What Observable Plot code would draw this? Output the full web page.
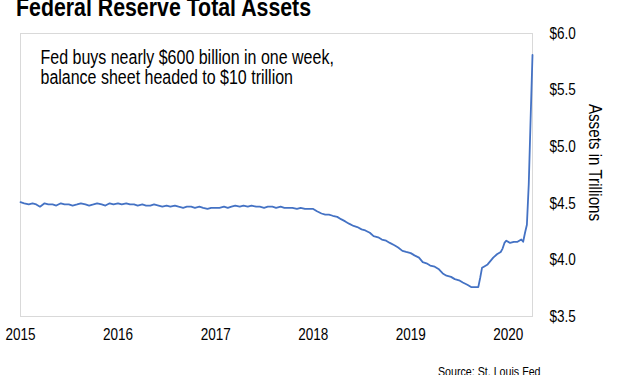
<!DOCTYPE html>
<html><head><meta charset="utf-8">
<script src="https://cdn.jsdelivr.net/npm/d3@7"></script>
<script src="https://cdn.jsdelivr.net/npm/@observablehq/plot@0.6"></script>
<style>
body{margin:0;background:#fff;}
#wrap{position:relative;width:624px;height:375px;overflow:hidden;font-family:"Liberation Sans",Arial,sans-serif;}
#title{position:absolute;left:16px;top:-6px;font-size:26px;line-height:26px;font-weight:bold;color:#000;white-space:nowrap;transform:scaleX(0.82);transform-origin:0 0;}
#source{position:absolute;left:438px;top:365px;font-size:13px;line-height:13px;color:#000;white-space:nowrap;transform:scaleX(0.82);transform-origin:0 0;}
#chart{position:absolute;left:0;top:0;}
</style></head>
<body><div id="wrap"><div id="chart"></div><div id="title">Federal Reserve Total Assets</div><div id="source">Source: St. Louis Fed</div></div>
<script>
const dates = [
"2015-01-01","2015-01-15","2015-02-01","2015-02-15","2015-03-01","2015-03-15","2015-04-01","2015-04-15","2015-05-01","2015-05-15","2015-06-01","2015-06-15",
"2015-07-01","2015-07-15","2015-08-01","2015-08-15","2015-09-01","2015-09-15","2015-10-01","2015-10-15","2015-11-01","2015-11-15","2015-12-01","2015-12-15",
"2016-01-01","2016-01-15","2016-02-01","2016-02-15","2016-03-01","2016-03-15","2016-04-01","2016-04-15","2016-05-01","2016-05-15","2016-06-01","2016-06-15",
"2016-07-01","2016-07-15","2016-08-01","2016-08-15","2016-09-01","2016-09-15","2016-10-01","2016-10-15","2016-11-01","2016-11-15","2016-12-01","2016-12-15",
"2017-01-01","2017-01-15","2017-02-01","2017-02-15","2017-03-01","2017-03-15","2017-04-01","2017-04-15","2017-05-01","2017-05-15","2017-06-01","2017-06-15",
"2017-07-01","2017-07-15","2017-08-01","2017-08-15","2017-09-01","2017-09-15","2017-10-01","2017-10-15","2017-11-01","2017-11-15","2017-12-01","2017-12-15",
"2018-01-01","2018-01-15","2018-02-01","2018-02-15","2018-03-01","2018-03-15","2018-04-01","2018-04-15","2018-05-01","2018-05-15","2018-06-01","2018-06-15",
"2018-07-01","2018-07-15","2018-08-01","2018-08-15","2018-09-01","2018-09-15","2018-10-01","2018-10-15","2018-11-01","2018-11-15","2018-12-01","2018-12-15",
"2019-01-01","2019-01-15","2019-02-01","2019-02-15","2019-03-01","2019-03-15","2019-04-01","2019-04-15","2019-05-01","2019-05-15","2019-06-01","2019-06-15",
"2019-07-01","2019-07-15","2019-08-01","2019-08-15","2019-08-28","2019-09-11","2019-09-18","2019-09-25","2019-10-02","2019-10-16","2019-10-30","2019-11-06",
"2019-11-20","2019-12-04","2019-12-11","2019-12-18","2019-12-25","2020-01-08","2020-01-22","2020-02-05","2020-02-19","2020-02-26","2020-03-04","2020-03-11",
"2020-03-18","2020-03-25","2020-04-01"
];
const assets = [
4.51,4.50,4.49,4.50,4.49,4.47,4.50,4.49,4.49,4.48,4.50,4.49,
4.49,4.48,4.49,4.50,4.49,4.48,4.49,4.50,4.49,4.48,4.50,4.49,
4.50,4.49,4.50,4.49,4.49,4.48,4.49,4.48,4.48,4.49,4.48,4.47,
4.48,4.47,4.48,4.47,4.46,4.47,4.47,4.46,4.47,4.46,4.45,4.46,
4.46,4.46,4.47,4.46,4.47,4.48,4.47,4.48,4.47,4.48,4.47,4.47,
4.46,4.47,4.47,4.46,4.47,4.46,4.46,4.46,4.45,4.46,4.45,4.45,
4.45,4.43,4.41,4.40,4.40,4.39,4.38,4.36,4.34,4.32,4.30,4.29,
4.27,4.26,4.24,4.21,4.20,4.18,4.17,4.15,4.13,4.11,4.08,4.07,
4.06,4.04,4.02,3.98,3.97,3.95,3.94,3.92,3.88,3.86,3.85,3.83,
3.82,3.80,3.78,3.76,3.76,3.76,3.84,3.93,3.94,3.96,4.00,4.02,
4.05,4.07,4.10,4.15,4.17,4.15,4.16,4.16,4.18,4.16,4.24,4.31,
4.67,5.25,5.81
];
const yearTicks = ["2015-01-01","2016-01-01","2017-01-01","2018-01-01","2019-01-01","2020-01-01"];
const yTicks = [3.5, 4.0, 4.5, 5.0, 5.5, 6.0];
const noteLines = ["Fed buys nearly $600 billion in one week,", "balance sheet headed to $10 trillion"];
const yLabel = "Assets in Trillions";

const FONT = '"Liberation Sans",Arial,sans-serif';
const NARROW = 0.82;
const data = dates.map((d, i) => ({date: new Date(d), value: assets[i]}));

const chart = Plot.plot({
  width: 624, height: 375,
  marginLeft: 20, marginRight: 92, marginTop: 33, marginBottom: 59,
  style: {fontFamily: FONT, fontSize: "16.5px", color: "#000", background: "transparent", overflow: "visible"},
  x: {type: "utc", domain: [new Date("2015-01-01"), new Date("2020-04-01")]},
  y: {domain: [3.5, 6.0]},
  marks: [
    Plot.frame({stroke: "#d9d9d9"}),
    Plot.axisX({ticks: yearTicks.map(d => new Date(d)), tickFormat: "%Y", tickSize: 0, tickPadding: 12, label: null, fontSize: 16.5}),
    Plot.axisY({anchor: "right", ticks: yTicks, tickFormat: d => "$" + d.toFixed(1), tickSize: 0, tickPadding: 17, label: null, fontSize: 16.5}),
    Plot.lineY(data, {x: "date", y: "value", stroke: "#4472C4", strokeWidth: 1.8}),
    Plot.text([noteLines.join("\n")], {text: d => d, frameAnchor: "top-left", dx: 20, dy: 16, textAnchor: "start", lineAnchor: "top", fontSize: 19.5, lineHeight: 1.03, fill: "#000"}),
    Plot.text([yLabel], {text: d => d, frameAnchor: "right", dx: 62, dy: -12.5, rotate: 90, textAnchor: "middle", fontSize: 18.5, fill: "#000"})
  ]
});
document.getElementById("chart").appendChild(chart);

// mimic the condensed (Arial Narrow-like) face of the reference
d3.select(chart).selectAll("text").each(function() {
  const spans = this.querySelectorAll("tspan");
  const targets = spans.length ? Array.from(spans) : [this];
  for (const el of targets) {
    const L = el.getComputedTextLength();
    if (L > 0) {
      el.setAttribute("textLength", (L * NARROW).toFixed(2));
      el.setAttribute("lengthAdjust", "spacingAndGlyphs");
    }
  }
});
</script>
</body></html>
